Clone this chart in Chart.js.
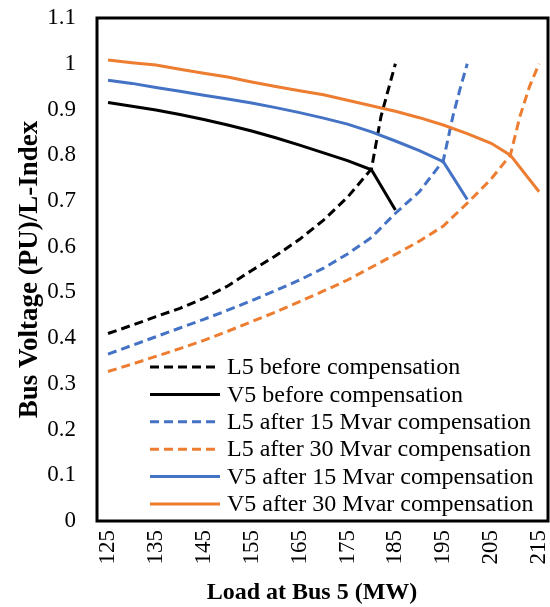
<!DOCTYPE html>
<html>
<head>
<meta charset="utf-8">
<script src="https://cdn.jsdelivr.net/npm/chart.js@4.4.1/dist/chart.umd.min.js"></script>
<style>
  html, body { margin: 0; padding: 0; background: #fff; }
  #wrap { width: 550px; height: 607px; position: relative; }
</style>
</head>
<body>
<div id="wrap"><canvas id="c" width="550" height="607"></canvas></div>
<script>
// ---- data ----
const seriesLabels = [
  "L5 before compensation",
  "V5 before compensation",
  "L5 after 15 Mvar compensation",
  "L5 after 30 Mvar compensation",
  "V5 after 15 Mvar compensation",
  "V5 after 30 Mvar compensation"
];
const xTitle = "Load at Bus 5 (MW)";
const yTitle = "Bus Voltage (PU)/L-Index";
const xTickValues = [125, 135, 145, 155, 165, 175, 185, 195, 205, 215];

const l5BeforeX = [125, 130, 135, 140, 145, 150, 155, 160, 165, 170, 175, 180, 182, 184, 185];
const l5BeforeY = [0.41, 0.428, 0.447, 0.465, 0.487, 0.514, 0.548, 0.580, 0.616, 0.658, 0.708, 0.77, 0.885, 0.962, 1.0];

const v5BeforeX = [125, 130, 135, 140, 145, 150, 155, 160, 165, 170, 175, 180, 185];
const v5BeforeY = [0.915, 0.907, 0.899, 0.889, 0.878, 0.866, 0.853, 0.838, 0.822, 0.805, 0.788, 0.768, 0.68];

const l5After15X = [125, 130, 135, 140, 145, 150, 155, 160, 165, 170, 175, 180, 185, 190, 195, 197, 198.5, 200];
const l5After15Y = [0.365, 0.384, 0.403, 0.422, 0.441, 0.461, 0.482, 0.504, 0.527, 0.553, 0.584, 0.62, 0.673, 0.72, 0.788, 0.885, 0.945, 1.0];

const l5After30X = [125, 130, 135, 140, 145, 150, 155, 160, 165, 170, 175, 180, 185, 190, 195, 200, 205, 209, 211, 213, 215];
const l5After30Y = [0.327, 0.343, 0.36, 0.377, 0.395, 0.415, 0.436, 0.457, 0.48, 0.503, 0.527, 0.555, 0.583, 0.612, 0.645, 0.695, 0.748, 0.80, 0.885, 0.95, 1.0];

const v5After15X = [125, 130, 135, 140, 145, 150, 155, 160, 165, 170, 175, 180, 185, 190, 195, 200];
const v5After15Y = [0.964, 0.957, 0.948, 0.940, 0.931, 0.923, 0.914, 0.904, 0.893, 0.881, 0.868, 0.851, 0.831, 0.810, 0.786, 0.703];

const v5After30X = [125, 130, 135, 140, 145, 150, 155, 160, 165, 170, 175, 180, 185, 190, 195, 200, 205, 209, 215];
const v5After30Y = [1.008, 1.002, 0.997, 0.988, 0.979, 0.971, 0.960, 0.950, 0.941, 0.932, 0.920, 0.908, 0.896, 0.882, 0.866, 0.847, 0.826, 0.800, 0.720];

// ---- styling ----
const BLACK = "#000000", BLUE = "#4472C4", ORANGE = "#ED7D31";
const DASH = [9, 5];

function pts(xs, ys) { return xs.map((x, i) => ({ x: x, y: ys[i] })); }

const seriesData = [
  pts(l5BeforeX, l5BeforeY),
  pts(v5BeforeX, v5BeforeY),
  pts(l5After15X, l5After15Y),
  pts(l5After30X, l5After30Y),
  pts(v5After15X, v5After15Y),
  pts(v5After30X, v5After30Y)
];
const seriesColors = [BLACK, BLACK, BLUE, ORANGE, BLUE, ORANGE];
const seriesDashed = [true, false, true, true, false, false];

Chart.defaults.font.family = "'Liberation Serif', 'Times New Roman', serif";
Chart.defaults.color = "#000";

const datasets = seriesLabels.map((lab, i) => ({
  label: lab,
  data: seriesData[i],
  borderColor: seriesColors[i],
  backgroundColor: seriesColors[i],
  borderWidth: 3,
  borderDash: seriesDashed[i] ? DASH : [],
  pointRadius: 0,
  pointHoverRadius: 0,
  tension: 0,
  fill: false,
  order: seriesLabels.length - i
}));

const frameAndLegend = {
  id: "frameAndLegend",
  afterDatasetsDraw(chart) {
    const ctx = chart.ctx;
    const a = chart.chartArea;
    ctx.save();
    // legend
    const x0 = 150, x1 = 220, tx = 227, y0 = 367, dy = 27.4;
    ctx.font = "24px 'Liberation Serif'";
    ctx.textBaseline = "middle";
    ctx.textAlign = "left";
    chart.data.datasets.forEach((ds, i) => {
      const y = y0 + i * dy;
      ctx.beginPath();
      ctx.lineWidth = 3;
      ctx.strokeStyle = ds.borderColor;
      ctx.setLineDash(ds.borderDash || []);
      ctx.moveTo(x0, y);
      ctx.lineTo(x1, y);
      ctx.stroke();
      ctx.setLineDash([]);
      ctx.fillStyle = "#000";
      ctx.fillText(ds.label, tx, y + 1);
    });
    // plot frame
    ctx.lineWidth = 3;
    ctx.strokeStyle = "#000";
    ctx.strokeRect(a.left, a.top, a.right - a.left, a.bottom - a.top);
    // x axis title
    ctx.font = "bold 24px 'Liberation Serif'";
    ctx.textAlign = "center";
    ctx.textBaseline = "middle";
    ctx.fillText(xTitle, 312, 593);
    ctx.restore();
  }
};

new Chart(document.getElementById("c"), {
  type: "line",
  data: { datasets: datasets },
  options: {
    responsive: false,
    animation: false,
    events: [],
    layout: { padding: { top: 18, right: 2, left: 0, bottom: 0 } },
    plugins: { legend: { display: false }, tooltip: { enabled: false } },
    scales: {
      x: {
        type: "linear",
        min: 122.7,
        max: 216.86,
        grid: { display: false, drawTicks: false },
        border: { display: false },
        afterBuildTicks: (scale) => { scale.ticks = xTickValues.map(v => ({ value: v })); },
        afterFit: (scale) => {
          scale.height = 86;
          scale.paddingLeft = 0; scale.paddingRight = 0;
          scale.paddingTop = 0; scale.paddingBottom = 0;
        },
        ticks: {
          autoSkip: false,
          minRotation: 90,
          maxRotation: 90,
          padding: 9,
          color: "#000",
          font: { size: 23 },
          callback: (v) => String(v)
        },
        title: { display: false }
      },
      y: {
        min: 0,
        max: 1.1,
        grid: { display: false, drawTicks: false },
        border: { display: false },
        afterFit: (scale) => {
          scale.width = 97;
          scale.paddingLeft = 0; scale.paddingRight = 0;
          scale.paddingTop = 0; scale.paddingBottom = 0;
        },
        ticks: {
          stepSize: 0.1,
          padding: 21,
          color: "#000",
          font: { size: 23 },
          callback: (v) => String(Math.round(v * 10) / 10)
        },
        title: {
          display: true,
          text: yTitle,
          color: "#000",
          font: { size: 27, weight: "bold" },
          padding: { top: 14, bottom: 0 }
        }
      }
    }
  },
  plugins: [frameAndLegend]
});
</script>
</body>
</html>
